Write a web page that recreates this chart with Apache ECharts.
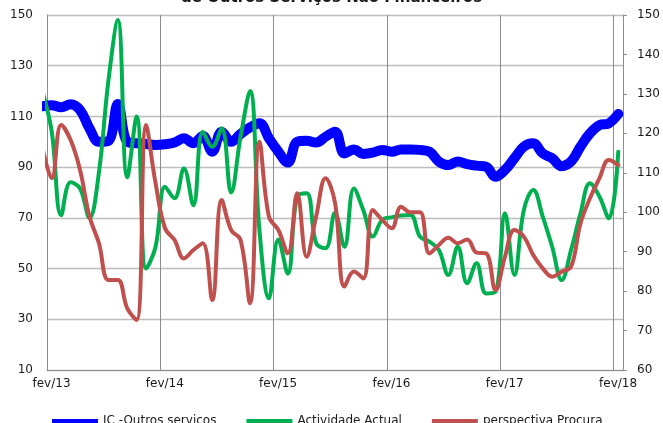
<!DOCTYPE html>
<html><head><meta charset="utf-8">
<script src="https://cdn.jsdelivr.net/npm/echarts@6/dist/echarts.min.js"></script>
<style>html,body{margin:0;padding:0;background:#fff}#c{width:663px;height:423px}</style>
</head><body><div id="c"></div>
<script>
// Monthly data: index 0 = jan/13 (partly clipped at the left edge), index 1 = fev/13 ... index 61 = fev/18
const monthNames = ['jan','fev','mar','abr','mai','jun','jul','ago','set','out','nov','dez'];
const months = [];
for (let y = 13; y <= 18; y++) for (let k = 0; k < 12; k++) months.push(monthNames[k] + '/' + y);
months.length = 62;

const xTickLabels = ['fev/13','fev/14','fev/15','fev/16','fev/17','fev/18'];
const leftTicks = [10, 30, 50, 70, 90, 110, 130, 150];
const rightTicks = [60, 70, 80, 90, 100, 110, 120, 130, 140, 150];

const seriesNames = ['IC -Outros serviços', 'Actividade Actual', 'perspectiva Procura'];

const ic = [114, 114.4, 113.6, 114.8, 112.5, 105.3, 100.0, 100.3, 114.9, 100.0, 99.4, 99.1, 98.7, 99.0, 99.7, 101.4,
  99.4, 102.3, 96.1, 104.0, 100.0, 103.1, 105.7, 107.3, 101.4, 96.1, 91.8, 100.0, 100.4, 99.7, 102.0, 104.0,
  95.4, 97.0, 95.2, 95.7, 96.8, 96.1, 97.0, 97.0, 96.8, 96.1, 92.2, 90.8, 92.2, 91.2, 90.6, 90.2, 86.2, 88.9,
  93.5, 98.1, 99.4, 95.4, 93.5, 90.4, 92.2, 98.1, 103.3, 106.6, 107.3, 111.0];

const actividade = [120, 104, 71, 84, 81.6, 70, 88, 124, 148, 86, 110, 50, 58.6, 82.3, 77.7, 89.5,
  75, 104, 98, 105.3, 80, 102, 120, 65, 38.3, 61.5, 48, 78.4, 79.7, 60, 58, 72,
  58.6, 81.6, 73, 62.6, 69.2, 70.2, 70.9, 71.1, 62.6, 60.6, 57.3, 47.5, 58.6, 44.2, 52.1, 40.2, 40.9, 71.8,
  47.5, 73.1, 81, 70.5, 58.6, 45.5, 57.3, 71.8, 83.6, 78.4, 69.8, 96.1];

const procura = [98, 85.6, 106.6, 100.7, 88.9, 70.5, 60, 45.5, 45.5, 34.3, 29.7, 106.6, 83.6, 65.9, 61.3, 54,
  57.3, 60, 37.6, 77, 65.2, 61.3, 36.3, 100, 70.5, 65.2, 56, 79.7, 54.7, 70.5, 85.6, 76,
  42.9, 48.8, 46.1, 73.1, 69.2, 65.9, 74.4, 72.2, 72.2, 56, 59.3, 62.2, 60, 61.5, 56.3, 56, 41.5, 54.7,
  65.2, 62.6, 55.3, 50.1, 46.8, 48.8, 50.7, 67.8, 77.7, 85.6, 92.8, 90.8];

const titleText = 'de Outros Serviços Não Financeiros';

// each month occupies one slot; the point sits at the slot centre (fev/13 slot starts at 0)
const toPts = arr => arr.map((v, i) => [i - 0.5, v]);

const FONT = 'DejaVu Sans';
const chart = echarts.init(document.getElementById('c'), null, {renderer: 'canvas'});
chart.setOption({
  animation: false,
  backgroundColor: '#ffffff',
  textStyle: {fontFamily: FONT},
  title: {
    text: titleText, left: 'center', top: -9, padding: 0,
    textStyle: {fontFamily: FONT, fontSize: 15, fontWeight: 'bold', color: '#1a1a1a'}
  },
  grid: {left: 47, right: 40, top: 15, bottom: 53, containLabel: false},
  legend: {
    data: seriesNames, left: 47, top: 410, icon: 'rect', itemWidth: 46, itemHeight: 4,
    itemGap: 30, textStyle: {fontFamily: FONT, fontSize: 12, color: '#1a1a1a'}
  },
  xAxis: {
    type: 'value', min: 0, max: 61, interval: 12,
    axisLine: {show: true, lineStyle: {color: '#8c8c8c', width: 1}},
    axisTick: {show: false},
    splitLine: {show: true, lineStyle: {color: '#8c8c8c', width: 1}},
    axisLabel: {
      fontFamily: FONT, fontSize: 12, color: '#1a1a1a', margin: 8, padding: [0, 0, 0, 9],
      formatter: v => (v % 12 === 0 && xTickLabels[v / 12]) ? xTickLabels[v / 12] : ''
    }
  },
  yAxis: [
    {
      type: 'value', min: leftTicks[0], max: leftTicks[leftTicks.length - 1], interval: 20, position: 'left',
      axisLine: {show: true, lineStyle: {color: '#8c8c8c'}},
      axisTick: {show: false},
      splitLine: {show: true, lineStyle: {color: '#bdbdbd', width: 1.3}},
      axisLabel: {fontFamily: FONT, fontSize: 12, color: '#1a1a1a', margin: 14}
    },
    {
      type: 'value', min: rightTicks[0], max: rightTicks[rightTicks.length - 1], interval: 10, position: 'right',
      axisLine: {show: true, lineStyle: {color: '#8c8c8c'}},
      axisTick: {show: true, inside: false, length: 4, lineStyle: {color: '#8c8c8c'}},
      splitLine: {show: false},
      axisLabel: {fontFamily: FONT, fontSize: 12, color: '#1a1a1a', margin: 14}
    }
  ],
  series: [
    {name: seriesNames[0], type: 'line', data: toPts(ic), yAxisIndex: 0, smooth: 0.4, showSymbol: false,
     color: '#0000ff', lineStyle: {width: 10, color: '#0000ff', cap: 'round', join: 'round'}, clip: true, z: 2},
    {name: seriesNames[1], type: 'line', data: toPts(actividade), yAxisIndex: 0, smooth: 0.4, showSymbol: false,
     color: '#00b050', lineStyle: {width: 4, color: '#00b050', cap: 'round', join: 'round'}, clip: true, z: 3},
    {name: seriesNames[2], type: 'line', data: toPts(procura), yAxisIndex: 0, smooth: 0.4, showSymbol: false,
     color: '#c0504d', lineStyle: {width: 4, color: '#c0504d', cap: 'round', join: 'round'}, clip: true, z: 4}
  ]
});
</script>
</body></html>
